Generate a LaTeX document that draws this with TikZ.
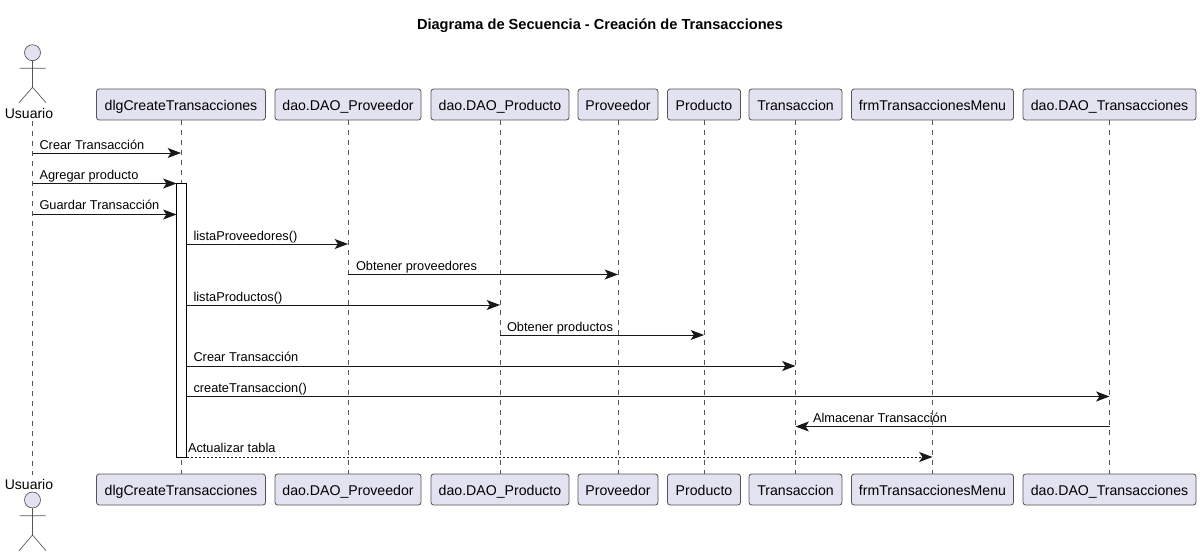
\documentclass[tikz,border=0pt]{standalone}
\usepackage{fontspec}
\setmainfont{Liberation Sans}
\usetikzlibrary{arrows.meta,backgrounds}
\definecolor{partfill}{HTML}{E2E2F0}
\definecolor{partline}{HTML}{181818}
\definecolor{thinline}{HTML}{555555}
\tikzset{
  part/.style={draw=thinline,line width=0.6pt,fill=partfill,rounded corners=2pt,minimum height=23.25pt,inner sep=0pt,outer sep=0pt,text=black,text height=8.6pt,text depth=0pt,font=\fontsize{10.6pt}{12pt}\selectfont},
  life/.style={draw=thinline,line width=0.45pt,dash pattern=on 3.75pt off 3.75pt},
  actorline/.style={draw=thinline,line width=0.5pt},
  msg/.style={draw=partline,line width=0.75pt,-{Stealth[length=10pt,width=7.5pt,inset=2.4pt]}},
  reply/.style={msg,dash pattern=on 1.5pt off 1.5pt},
  lbl/.style={anchor=base west,inner sep=0pt,outer sep=0pt,font=\fontsize{9.6pt}{11pt}\selectfont},
  actname/.style={inner sep=0pt,outer sep=0pt,font=\fontsize{10.5pt}{12pt}\selectfont},
  ttl/.style={inner sep=0pt,font=\bfseries\fontsize{10.95pt}{12pt}\selectfont},
}
\begin{document}
\begin{tikzpicture}[x=0.75pt,y=-0.75pt]
\useasboundingbox (0,0) rectangle (1201,556);
\node[ttl] (title) at (600,26) {Diagrama de Secuencia - Creación de Transacciones};
% participants, top
\node[part,minimum width=126.75pt] (d1) at (181,104.5) {dlgCreateTransacciones};
\node[part,minimum width=109.5pt] (p1) at (348,104.5) {dao.DAO\_Proveedor};
\node[part,minimum width=103.5pt] (q1) at (500,104.5) {dao.DAO\_Producto};
\node[part,minimum width=60pt] (v1) at (618,104.5) {Proveedor};
\node[part,minimum width=54.75pt] (r1) at (704,104.5) {Producto};
\node[part,minimum width=69.75pt] (t1) at (795.5,104.5) {Transaccion};
\node[part,minimum width=121.5pt] (f1) at (932.5,104.5) {frmTransaccionesMenu};
\node[part,minimum width=129.75pt] (a1) at (1109.5,104.5) {dao.DAO\_Transacciones};
% participants, bottom
\node[part,minimum width=126.75pt] (d2) at (181,489.5) {dlgCreateTransacciones};
\node[part,minimum width=109.5pt] (p2) at (348,489.5) {dao.DAO\_Proveedor};
\node[part,minimum width=103.5pt] (q2) at (500,489.5) {dao.DAO\_Producto};
\node[part,minimum width=60pt] (v2) at (618,489.5) {Proveedor};
\node[part,minimum width=54.75pt] (r2) at (704,489.5) {Producto};
\node[part,minimum width=69.75pt] (t2) at (795.5,489.5) {Transaccion};
\node[part,minimum width=121.5pt] (f2) at (932.5,489.5) {frmTransaccionesMenu};
\node[part,minimum width=129.75pt] (a2) at (1109.5,489.5) {dao.DAO\_Transacciones};
% actors
\node[actname] (u1) at (29,113.5) {Usuario};
\node[actname] (u2) at (29,484) {Usuario};
\coordinate (u) at (32.5,300);
\draw[actorline,fill=partfill] (32.5,52.7) circle (8);
\draw[actorline] (32.5,60.7) -- (32.5,87.3) (19.5,68.3) -- (45.5,68.3) (19,102.7) -- (32.5,87.3) -- (46,102.7);
\draw[actorline,fill=partfill] (32.5,500) circle (8);
\draw[actorline] (32.5,508) -- (32.5,535) (19.5,515.7) -- (45.5,515.7) (19,550.7) -- (32.5,535) -- (46,550.7);
% lifelines
\begin{scope}[on background layer]
\draw[life] (u |- 0,121) -- (u |- 0,475);
\foreach \n in {d,p,q,v,r,t,f,a} {\draw[life] (\n1) -- (\n2);}
\end{scope}
% activation
\node[draw=black,line width=0.75pt,fill=white,minimum width=7.5pt,minimum height=205.5pt,inner sep=0pt,outer sep=0pt] (act) at (181.5,320) {};
% messages
\draw[msg] (u |- 0,153) -- (d1 |- 0,153);
\node[lbl] (m1) at (39.5,149) {Crear Transacción};
\draw[msg] (u |- 0,183.5) -- (act.west |- 0,183.5);
\node[lbl] (m2) at (39.5,179) {Agregar producto};
\draw[msg] (u |- 0,214.5) -- (act.west |- 0,214.5);
\node[lbl] (m3) at (39.5,209.5) {Guardar Transacción};
\draw[msg] (act.east |- 0,244) -- (p1 |- 0,244);
\node[lbl] (m4) at (193.5,240) {listaProveedores()};
\draw[msg] (p1 |- 0,274.5) -- (v1 |- 0,274.5);
\node[lbl] (m5) at (356,270) {Obtener proveedores};
\draw[msg] (act.east |- 0,305) -- (q1 |- 0,305);
\node[lbl] (m6) at (193.5,301) {listaProductos()};
\draw[msg] (q1 |- 0,335) -- (r1 |- 0,335);
\node[lbl] (m7) at (507,331) {Obtener productos};
\draw[msg] (act.east |- 0,366) -- (t1 |- 0,366);
\node[lbl] (m8) at (193.5,361) {Crear Transacción};
\draw[msg] (act.east |- 0,396.5) -- (a1 |- 0,396.5);
\node[lbl] (m9) at (193.5,392) {createTransaccion()};
\draw[msg] (a1 |- 0,426.5) -- (t1 |- 0,426.5);
\node[lbl] (m10) at (813,422) {Almacenar Transacción};
\draw[reply] (act.east |- 0,457) -- (f1 |- 0,457);
\node[lbl] (m11) at (188,452) {Actualizar tabla};
\end{tikzpicture}
\end{document}
